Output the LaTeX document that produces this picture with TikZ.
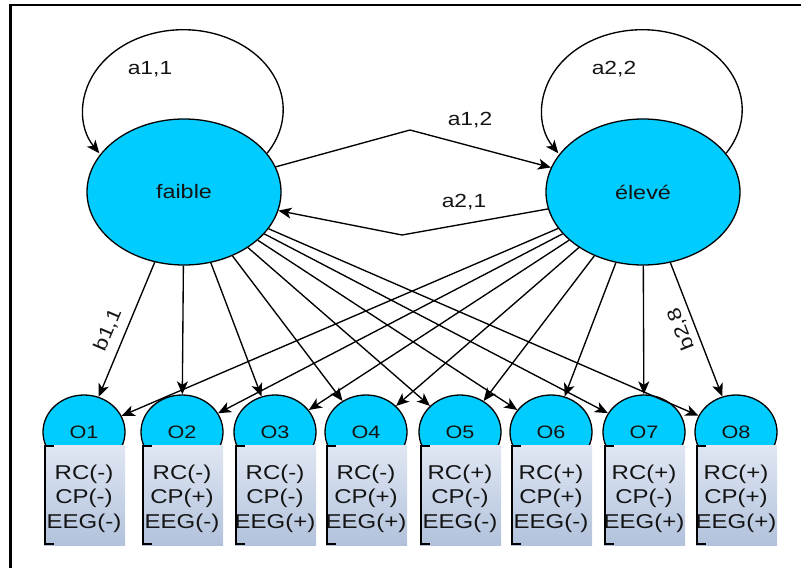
\documentclass[tikz,border=0pt]{standalone}
\usepackage{fontspec}
\setmainfont{Liberation Sans}[FakeStretch=1.2]
\usetikzlibrary{shapes.geometric,arrows.meta}
\definecolor{statefill}{RGB}{0,204,255}
\definecolor{boxtop}{RGB}{224,231,243}
\definecolor{boxbottom}{RGB}{178,194,220}
\definecolor{ink}{RGB}{20,20,20}
\begin{document}
\begin{tikzpicture}[x=1pt,y=1pt,
  lab/.style={font=\fontsize{19}{21}\selectfont, text=ink, inner sep=0pt},
  latent/.style={ellipse, draw=black, line width=1.3pt, fill=statefill,
    minimum width=194pt, minimum height=146pt, inner sep=0pt,
    font=\fontsize{19.5}{21}\selectfont, text=ink},
  obs/.style={ellipse, draw=black, line width=1.3pt, fill=statefill,
    minimum width=82pt, minimum height=74pt, inner sep=0pt,
    font=\fontsize{18}{20}\selectfont, text=ink},
  emis/.style={rectangle, draw=none, top color=boxtop, bottom color=boxbottom,
    minimum width=81pt, minimum height=100pt, inner sep=0pt},
  emistext/.style={align=center, inner sep=0pt,
    font=\fontsize{20}{24.5}\selectfont, text=ink},
  bracket/.style={line width=2.4pt, black},
  arr/.style={-{Stealth[length=13pt,width=11pt,inset=3.5pt]}, line width=1.35pt, black},
]
\useasboundingbox (0,0) rectangle (801,-568);

% frame
\draw[line width=2.6pt] (10.5,-568) -- (10.5,-5) -- (801,-5);

% hidden states
\node[latent] (faible) at (184,-192) {faible};
\node[latent] (eleve)  at (643,-192) {élevé};

% observations: circle on top, emission box below
\foreach \i/\cx/\r/\c/\e in {1/84/-/-/-, 2/182/-/+/-, 3/275/-/-/+, 4/366/-/+/+,
                              5/460/+/-/-, 6/551/+/+/-, 7/644/+/-/+, 8/736/+/+/+}{
  \node[obs] (O\i) at (\cx,-432) {O\i};
  \node[emis] (B\i) at (\cx+0.5,-495) {};
  \node[emistext] (T\i) at (\cx,-498.5) {RC(\r)\\CP(\c)\\EEG(\e)};
  \draw[bracket] ([xshift=10pt,yshift=-1.2pt]B\i.north west) -- ([xshift=1.2pt,yshift=-1.2pt]B\i.north west)
     -- ([xshift=1.2pt,yshift=1.2pt]B\i.south west) -- ([xshift=10pt,yshift=1.2pt]B\i.south west);
}

% self transitions
\draw[arr] (faible.25) arc[start angle=-33, end angle=213, x radius=100, y radius=80];
\draw[arr] (eleve.25) arc[start angle=-33, end angle=213, x radius=100, y radius=80];
\node[lab] (a11) at (150,-69) {a1,1};
\node[lab] (a22) at (614,-69) {a2,2};

% cross transitions
\coordinate (k12) at (410,-130);
\coordinate (k21) at (402,-235);
\draw[arr] (faible) -- (k12) -- (eleve);
\draw[arr] (eleve) -- (k21) -- (faible);
\node[lab] (a12) at (470,-120) {a1,2};
\node[lab] (a21) at (464,-202) {a2,1};

% emissions
\foreach \i in {1,...,8}{
  \draw[arr] (faible) -- (O\i);
  \draw[arr] (eleve) -- (O\i);
}
\node[lab, rotate=67] (b11) at (108,-330) {b1,1};
\node[lab, rotate=111] (b28) at (681,-329) {b2,8};
\end{tikzpicture}
\end{document}
